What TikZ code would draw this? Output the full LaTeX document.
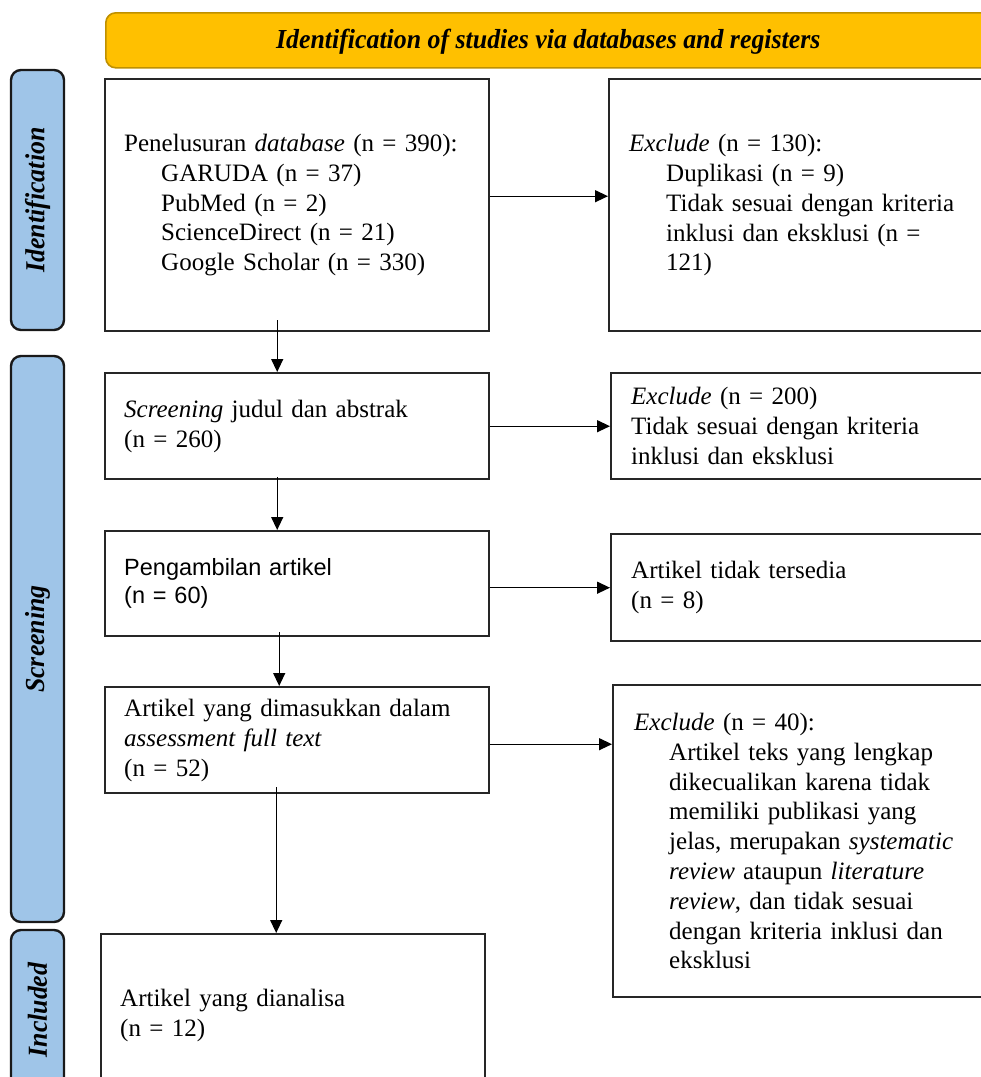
\documentclass[tikz,border=0pt]{standalone}
\usepackage{fontspec}
\setmainfont{Liberation Serif}
\setsansfont{Liberation Sans}
\usetikzlibrary{arrows.meta}

\definecolor{hdrgold}{HTML}{FFC000}
\definecolor{hdrline}{HTML}{BF9000}
\definecolor{phaseblue}{HTML}{9FC5E8}

\newcommand{\ind}{\hspace*{37pt}}
\newcommand{\phasetext}[1]{\scalebox{0.94}[1]{\bfseries\itshape #1}}

\tikzset{
  box/.style={draw=black!85, line width=2.4pt, fill=white, anchor=north west,
    inner xsep=19pt, inner ysep=0pt, align=left,
    font=\fontsize{25}{29.8}\selectfont},
  phase/.style={draw=black!90, line width=2.4pt, fill=phaseblue, rounded corners=10pt,
    rotate=90, minimum height=53pt, inner sep=0pt,
    font=\fontsize{27.5}{30}\selectfont},
  arr/.style={-{Triangle[width=12pt,length=13pt]}, line width=1.3pt},
}

\begin{document}
\begin{tikzpicture}[x=1pt,y=-1pt]
  \useasboundingbox (0,0) rectangle (981,1077);

  % header
  \node[draw=hdrline, line width=1.6pt, fill=hdrgold, rounded corners=10pt,
        anchor=north west, minimum width=885pt, minimum height=55pt,
        text depth=3pt, font=\fontsize{27.5}{30}\selectfont] (hdr) at (105,12)
        {\phasetext{Identification of studies via databases and registers}};

  % phases
  \node[phase, minimum width=260pt] (pid) at (37.5,200) {\phasetext{Identification}};
  \node[phase, minimum width=566pt] (psc) at (37.5,639) {\phasetext{Screening}};
  \node[phase, minimum width=160pt] (pin) at (37.5,1010) {\phasetext{Included}};

  % left column
  \node[box, text width=346pt, minimum height=252pt] (b1) at (104,78)
    {Penelusuran \textit{database} (n = 390):\\
     \ind GARUDA (n = 37)\\
     \ind PubMed (n = 2)\\
     \ind ScienceDirect (n = 21)\\
     \ind Google Scholar (n = 330)};
  \node[box, text width=346pt, minimum height=106pt] (b2) at (104,372)
    {\textit{Screening} judul dan abstrak\\(n = 260)};
  \node[box, text width=346pt, minimum height=105pt,
        font=\sffamily\fontsize{23.5}{28}\selectfont] (b3) at (104,530)
    {Pengambilan artikel\\(n = 60)};
  \node[box, text width=346pt, minimum height=106pt] (b4) at (104,686)
    {Artikel yang dimasukkan dalam\\\textit{assessment full text}\\(n = 52)};
  \node[box, text width=346pt, minimum height=162pt] (b5) at (100,933)
    {Artikel yang dianalisa\\(n = 12)};

  % right column
  \node[box, inner xsep=20pt, text width=347pt, minimum height=252pt] (r1) at (608,78)
    {\textit{Exclude} (n = 130):\\
     \ind Duplikasi (n = 9)\\
     \ind Tidak sesuai dengan kriteria\\
     \ind inklusi dan eksklusi (n =\\
     \ind 121)};
  \node[box, inner xsep=20pt, text width=345pt, minimum height=106pt] (r2) at (610,372)
    {\textit{Exclude} (n = 200)\\Tidak sesuai dengan kriteria\\inklusi dan eksklusi};
  \node[box, inner xsep=20pt, text width=345pt, minimum height=107pt] (r3) at (610,533)
    {Artikel tidak tersedia\\(n = 8)};
  \node[box, inner xsep=21pt, text width=341pt, minimum height=312pt] (r4) at (612,684)
    {\textit{Exclude} (n = 40):\\
     \hspace*{35pt}Artikel teks yang lengkap\\
     \hspace*{35pt}dikecualikan karena tidak\\
     \hspace*{35pt}memiliki publikasi yang\\
     \hspace*{35pt}jelas, merupakan \textit{systematic}\\
     \hspace*{35pt}\textit{review} ataupun \textit{literature}\\
     \hspace*{35pt}\textit{review}, dan tidak sesuai\\
     \hspace*{35pt}dengan kriteria inklusi dan\\
     \hspace*{35pt}eksklusi};

  % connectors
  \draw[arr] ([yshift=9pt]b1.east) -- ([yshift=9pt]r1.west);
  \draw[arr] (b2.east) -- (r2.west);
  \draw[arr] (b3.east |- r3.west) -- (r3.west);
  \draw[arr] ([yshift=-4pt]b4.east) -- ([yshift=-4pt]b4.east -| r4.west);

  \draw[arr] ([xshift=-20pt,yshift=12pt]b1.south) -- ([xshift=-20pt]b2.north);
  \draw[arr] ([xshift=-20pt,yshift=3pt]b2.south) -- ([xshift=-20pt]b3.north);
  \draw[arr] ([xshift=-18pt,yshift=5pt]b3.south) -- ([xshift=-18pt]b4.north);
  \draw[arr] ([xshift=-21pt,yshift=7pt]b4.south) -- ([xshift=-21pt]b4.south |- b5.north);
\end{tikzpicture}
\end{document}
